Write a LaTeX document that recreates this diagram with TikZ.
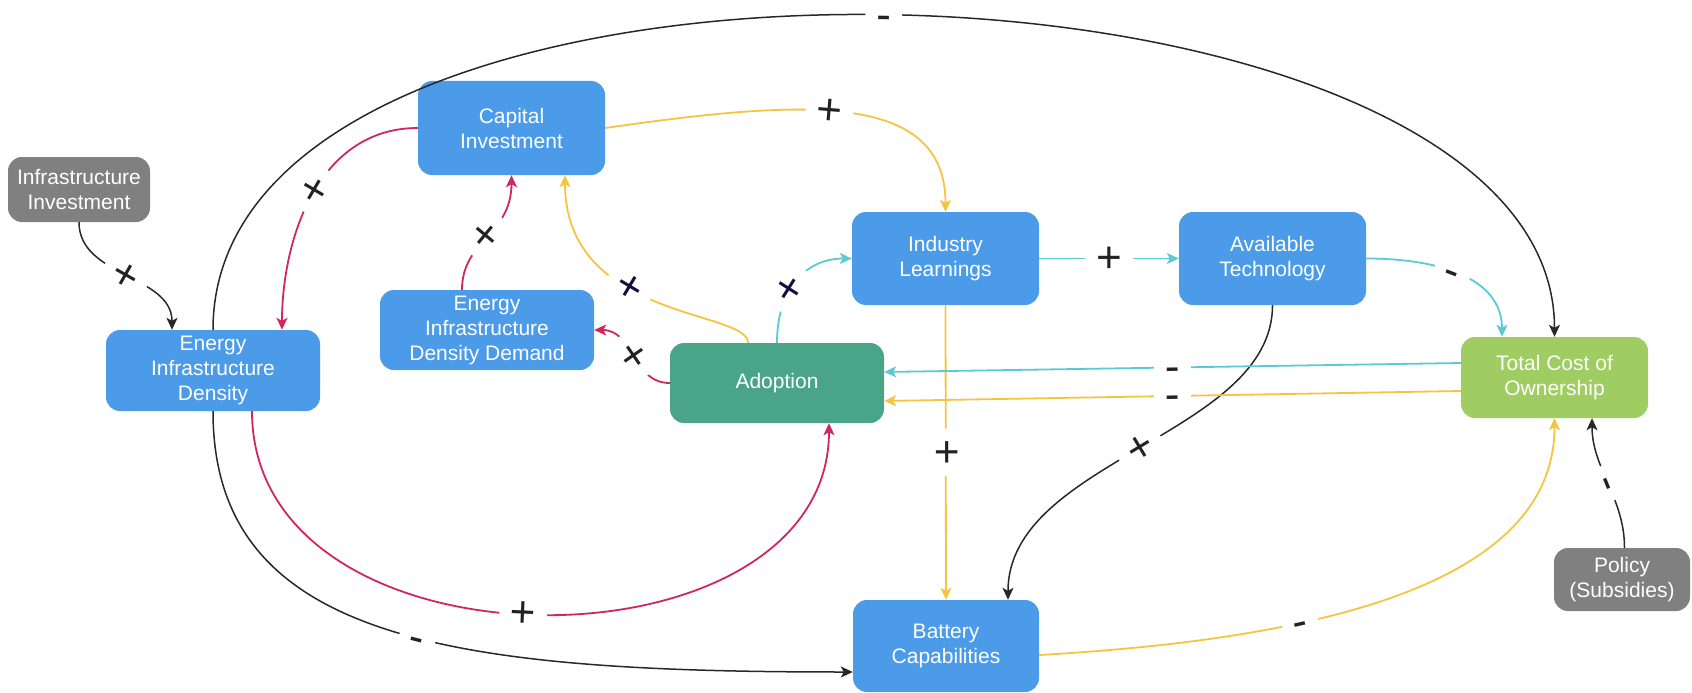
\documentclass[tikz,border=0pt]{standalone}
\usepackage{fontspec}
\setmainfont{Liberation Sans}
\usetikzlibrary{arrows.meta}
\definecolor{boxblue}{RGB}{75,155,233}
\definecolor{adoptgreen}{RGB}{74,164,138}
\definecolor{costgreen}{RGB}{160,205,98}
\definecolor{boxgray}{RGB}{128,128,128}
\definecolor{linkred}{RGB}{206,40,94}
\definecolor{linkyellow}{RGB}{245,197,66}
\definecolor{linkcyan}{RGB}{92,202,212}
\definecolor{linkblack}{RGB}{40,40,40}
\definecolor{signcol}{RGB}{34,34,34}
\definecolor{signnavy}{RGB}{16,16,64}
\tikzset{
  box/.style={rectangle, rounded corners=14pt, fill=boxblue, text=white,
    align=center, inner sep=0pt, font=\fontsize{21}{25}\selectfont},
  sign/.style={sloped, midway, fill=white, text=signcol, inner xsep=11pt,
    inner ysep=0pt, text height=27pt, text depth=0pt,
    font=\fontsize{44}{44}\selectfont},
  link/.style={->, line width=1.8pt},
}

\begin{document}
\begin{tikzpicture}[x=1pt, y=-1pt, >={Stealth[length=12pt, width=11pt, inset=3pt]}]

  \useasboundingbox[fill=white] (0,0) rectangle (1692,693);

  % Boxes.
  \node[box, fill=boxgray, minimum width=142pt, minimum height=65pt] (infra) at (79,189.5) {Infrastructure\\Investment};
  \node[box, minimum width=187pt, minimum height=94pt] (ci) at (511.5,128) {Capital\\Investment};
  \node[box, minimum width=214pt, minimum height=81pt] (eid) at (213,370.5) {Energy\\Infrastructure\\Density};
  \node[box, minimum width=214pt, minimum height=80pt] (eidd) at (487,330) {Energy\\Infrastructure\\Density Demand};
  \node[box, fill=adoptgreen, minimum width=214pt, minimum height=80pt] (adopt) at (777,383) {Adoption};
  \node[box, minimum width=187pt, minimum height=93pt] (il) at (945.5,258.5) {Industry\\Learnings};
  \node[box, minimum width=187pt, minimum height=93pt] (at) at (1272.5,258.5) {Available\\Technology};
  \node[box, fill=costgreen, minimum width=187pt, minimum height=81pt] (tco) at (1554.5,377.5) {Total Cost of\\Ownership};
  \node[box, fill=boxgray, minimum width=136pt, minimum height=63pt] (policy) at (1622,579.5) {Policy\\(Subsidies)};
  \node[box, minimum width=186pt, minimum height=92pt] (bc) at (946,646) {Battery\\Capabilities};

  % Into Energy Infrastructure Density.
  \draw[link, linkblack, line width=1.5pt] (infra.south) .. controls +(0,55) and +(0,-55) .. ([xshift=-41pt]eid.north)
    node[sign] {+};
  \draw[link, linkred] (ci.west) .. controls +(-100,0) and +(0,-90) .. ([xshift=69pt]eid.north)
    node[sign, pos=0.48] {+};

  % Into Capital Investment.
  \draw[link, linkred] ([xshift=-25pt]eidd.north) .. controls +(0,-50) and +(0,60) .. (ci.south)
    node[sign] {+};
  \draw[link, linkyellow] ([xshift=-29pt]adopt.north) .. controls +(0,-33) and +(0,145) .. ([xshift=53.5pt]ci.south)
    node[sign, pos=0.6, text=signnavy] {+};

  % Out of Adoption.
  \draw[link, linkred] (adopt.west) .. controls +(-38,0) and +(40,0) .. (eidd.east)
    node[sign] {+};
  \draw[link, linkcyan] (adopt.north) .. controls +(0,-55) and +(-45,0) .. (il.west)
    node[sign, pos=0.4, text=signnavy] {+};

  % Learnings and technology.
  \draw[link, linkyellow] (ci.east) .. controls +(195,-28) and +(0,-122) .. (il.north)
    node[sign, pos=0.45] {+};
  \draw[link, linkcyan] (il.east) -- (at.west) node[sign] {+};
  \draw[link, linkyellow] (il.south) -- (bc.north) node[sign] {+};
  \draw[link, linkcyan] (at.east) .. controls +(70,0) and +(0,-60) .. ([xshift=-52.5pt]tco.north)
    node[sign, pos=0.45] {-};
  \draw[link, linkblack, line width=1.5pt] (at.south) .. controls +(0,130) and +(0,-140) .. ([xshift=62pt]bc.north)
    node[sign] {+};

  % Cost back to Adoption.
  \draw[link, linkcyan] ([yshift=14.5pt]tco.west) -- ([yshift=11pt]adopt.east) node[sign] {-};
  \draw[link, linkyellow] ([yshift=-13.5pt]tco.west) -- ([yshift=-18pt]adopt.east) node[sign] {-};

  % Lower loops.
  \draw[link, linkred] ([xshift=39pt]eid.south) .. controls +(0,270) and +(0,255) .. ([xshift=52pt]adopt.south)
    node[sign, pos=0.48] {+};
  \draw[link, linkblack, line width=1.5pt] (eid.south) .. controls +(0,230) and +(-400,0) .. ([yshift=-26pt]bc.west)
    node[sign, pos=0.55] {-};
  \draw[link, linkyellow] ([yshift=-9pt]bc.east) .. controls +(261,-15) and +(0,172) .. (tco.south)
    node[sign, pos=0.35] {-};
  \draw[link, linkblack, line width=1.5pt] ([xshift=2.5pt]policy.north) .. controls +(0,-50) and +(0,50) .. ([xshift=37.5pt]tco.south)
    node[sign] {-};

  % Outer arc over the top.
  \draw[link, linkblack, line width=1.5pt] (eid.north) .. controls +(0,-440) and +(0,-407) .. (tco.north)
    node[sign] {-};

\end{tikzpicture}
\end{document}
